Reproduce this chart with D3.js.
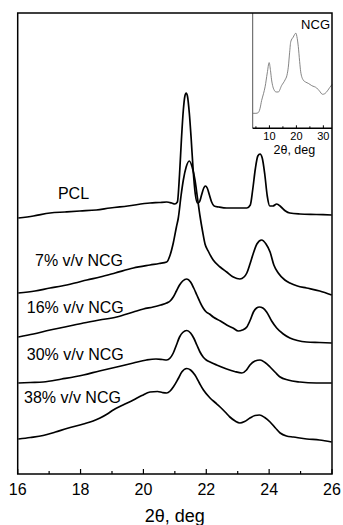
<!DOCTYPE html>
<html><head><meta charset="utf-8">
<script src="https://cdn.jsdelivr.net/npm/d3@7/dist/d3.min.js"></script>
<style>body{margin:0;background:#fff}svg{display:block}</style>
</head><body>
<svg id="c" width="343" height="525"></svg>
<script>
// ---------- data (2θ in deg, intensity in arbitrary units) ----------
const seriesNames = ["PCL", "7% v/v NCG", "16% v/v NCG", "30% v/v NCG", "38% v/v NCG"];
const xTicksMain = [16, 18, 20, 22, 24, 26];
const xMinorMain = [17, 19, 21, 23, 25];
const xTicksInset = [10, 20, 30];
const xMinorInset = [5, 15, 25];
const insetName = "NCG";
const axisTitle = "2θ, deg";

const pcl = [[16.02,256],[16.5,258],[17.03,261],[17.5,262],[17.98,263],[18.5,264],[18.94,266],[19.5,268],[20.21,271],[20.5,271.5],[20.74,272],[20.9,271],[21.0,270],[21.08,272],[21.15,300],[21.21,335],[21.27,364],[21.32,378],[21.36,381],[21.40,378],[21.46,361],[21.52,335],[21.58,305],[21.65,280],[21.72,271],[21.78,272],[21.85,279],[21.92,286],[21.97,288],[22.03,286],[22.10,279],[22.17,272],[22.25,268],[22.4,267],[22.65,266],[23.0,266],[23.29,266],[23.40,269],[23.48,285],[23.56,305],[23.64,318],[23.71,320],[23.78,316],[23.86,300],[23.94,278],[24.02,268],[24.12,268],[24.24,270],[24.38,267],[24.52,263],[24.66,261],[24.98,260],[25.5,259.5],[25.99,259]];
const ncg7 = [[16.02,181],[16.55,183],[17.03,186],[17.4,188],[17.82,191],[18.2,194],[18.62,197],[19.1,201],[19.68,206],[20.21,209],[20.5,210.5],[20.74,212],[20.85,219],[20.95,231],[21.05,247],[21.11,256],[21.2,279],[21.27,294],[21.36,307],[21.46,313],[21.55,307],[21.64,294],[21.72,276],[21.80,258],[21.88,243],[21.96,230],[22.06,223],[22.22,214],[22.44,207],[22.65,202],[22.86,197],[23.07,195],[23.2,197],[23.29,201],[23.39,210],[23.50,221],[23.61,230],[23.76,234],[23.90,230],[24.03,222],[24.15,209],[24.29,201],[24.50,194],[24.66,191],[24.9,188],[25.19,186],[25.61,183],[25.99,179]];
const ncg16 = [[16.02,137],[16.5,140],[17.03,144],[17.5,147],[18.09,151],[18.6,154],[19.15,157],[19.68,162],[20.0,165],[20.31,167],[20.55,169],[20.74,171],[20.85,173],[20.95,177],[21.05,183],[21.15,189],[21.25,193],[21.38,195],[21.5,192],[21.6,186],[21.7,179],[21.8,172],[21.9,166],[22.0,162],[22.1,160],[22.22,157],[22.45,153],[22.65,149],[22.85,146],[23.02,143],[23.15,144],[23.29,147],[23.40,154],[23.50,162],[23.60,166],[23.69,167],[23.80,166],[23.92,162],[24.08,153],[24.24,146],[24.45,140],[24.66,136],[24.9,133.5],[25.19,132],[25.6,131.5],[25.99,131]];
const ncg30 = [[16.02,91],[16.4,91.5],[16.81,92],[17.4,95],[18.09,99],[18.6,103],[19.15,107],[19.68,111],[20.10,114],[20.4,115],[20.6,114.5],[20.74,114],[20.85,116],[20.95,121],[21.05,129],[21.15,137],[21.25,141.5],[21.38,143.5],[21.5,141],[21.6,136],[21.7,129],[21.8,122],[21.9,117],[22.0,114],[22.12,112],[22.33,109],[22.65,105],[22.9,102.5],[23.13,101],[23.28,104],[23.39,109],[23.55,113],[23.71,114],[23.87,111.5],[24.03,107],[24.2,101.5],[24.35,97],[24.6,94],[24.98,92],[25.5,91],[25.99,91]];
const ncg38 = [[16.02,35],[16.4,36.5],[16.81,38.5],[17.2,42],[17.56,45.5],[18.09,50],[18.4,53],[18.62,56],[18.85,60],[19.04,64],[19.35,69],[19.68,74],[19.95,78.5],[20.21,82],[20.45,82.5],[20.6,81.5],[20.74,81],[20.85,83],[20.95,87],[21.1,95],[21.22,102],[21.38,105.5],[21.5,104],[21.64,99],[21.78,91],[21.91,84],[22.12,76],[22.3,71],[22.44,67],[22.6,62],[22.75,57],[22.92,53],[23.07,51],[23.22,52.5],[23.39,56],[23.55,58.5],[23.69,59],[23.86,56.5],[24.03,52],[24.2,46],[24.35,41],[24.55,38],[24.77,37],[25.2,35],[25.6,34],[25.99,32]];
const ncgInset = [[3.8,13],[5.0,13],[5.8,13.5],[6.5,17],[7.1,24],[7.8,30],[8.4,36],[9.2,48],[9.9,57],[10.4,50],[10.8,42],[11.3,36],[11.8,33],[12.5,31.5],[13.3,31.5],[14.5,37],[15.8,42],[16.5,46],[17.0,53],[17.5,66],[17.9,75],[18.8,79],[19.8,82.5],[20.3,78],[20.7,71],[21.2,58],[21.6,49],[22.5,42],[23.5,40],[24.4,39],[25.7,37],[27.5,35],[28.5,32.5],[29.7,29.5],[30.5,30],[31.0,31],[32.4,35.5],[33.2,38]];

const series = [pcl, ncg7, ncg16, ncg30, ncg38];
// label anchors (2θ, intensity) for each series name
const labelAnchor = [[17.28,275],[16.55,208],[16.29,161],[16.29,114.5],[16.2,71.5]];

// ---------- layout ----------
const W = 343, H = 525;
const L = 17.7, R = 332, T = 13, B = 474;
const svg = d3.select("#c");
svg.append("rect").attr("width", W).attr("height", H).attr("fill", "#fff");
const font = "Arial, 'Liberation Sans', Helvetica, sans-serif";

const x = d3.scaleLinear().domain([16, 26]).range([L, R]);
const y = d3.scaleLinear().domain([0, B - T]).range([B, T]);

const line = d3.line().x(d => x(d[0])).y(d => y(d[1])).curve(d3.curveMonotoneX);

// curves
svg.append("g").selectAll("path").data(series).join("path")
  .attr("d", line).attr("fill", "none").attr("stroke", "#000")
  .attr("stroke-width", 1.7).attr("stroke-linejoin", "round");

// labels
svg.append("g").selectAll("text").data(seriesNames).join("text")
  .attr("x", (d, i) => x(labelAnchor[i][0]))
  .attr("y", (d, i) => y(labelAnchor[i][1]))
  .attr("font-family", font).attr("font-size", 16).attr("fill", "#000")
  .text(d => d);

// ---------- inset ----------
const iL = 252.7, iR = R, iT = T, iB = 128.3;
const xi = d3.scaleLinear().domain([3.8, 33.2]).range([iL, iR]);
const yi = d3.scaleLinear().domain([0, 100]).range([iB, iT]);
const gi = svg.append("g");
gi.append("rect").attr("x", iL).attr("y", iT).attr("width", iR - iL).attr("height", iB - iT)
  .attr("fill", "#fff").attr("stroke", "none");
gi.append("line").attr("x1", iL).attr("x2", iL).attr("y1", iT).attr("y2", iB)
  .attr("stroke", "#555").attr("stroke-width", 1);
gi.append("path").datum(ncgInset)
  .attr("d", d3.line().x(d => xi(d[0])).y(d => yi(d[1])).curve(d3.curveMonotoneX))
  .attr("fill", "none").attr("stroke", "#777").attr("stroke-width", 0.9);
gi.append("line").attr("x1", iL).attr("x2", iR).attr("y1", iB).attr("y2", iB)
  .attr("stroke", "#000").attr("stroke-width", 1.5);
gi.selectAll("line.mj").data(xTicksInset).join("line").attr("class", "mj")
  .attr("x1", d => xi(d)).attr("x2", d => xi(d)).attr("y1", iB).attr("y2", iB - 3)
  .attr("stroke", "#000").attr("stroke-width", 1);
gi.selectAll("line.mn").data(xMinorInset).join("line").attr("class", "mn")
  .attr("x1", d => xi(d)).attr("x2", d => xi(d)).attr("y1", iB).attr("y2", iB - 2)
  .attr("stroke", "#000").attr("stroke-width", 1);
gi.selectAll("text.tl").data(xTicksInset).join("text").attr("class", "tl")
  .attr("x", d => xi(d)).attr("y", iB + 11.5).attr("text-anchor", "middle")
  .attr("font-family", font).attr("font-size", 11).text(d => d);
gi.append("text").attr("x", (iL + iR) / 2 + 2).attr("y", iB + 25.5).attr("text-anchor", "middle")
  .attr("font-family", font).attr("font-size", 12.5).text(axisTitle);
gi.append("text").attr("x", iR - 2).attr("y", iT + 15.5).attr("text-anchor", "end")
  .attr("font-family", font).attr("font-size", 13).text(insetName);

// ---------- main frame & axis ----------
svg.append("rect").attr("x", L).attr("y", T).attr("width", R - L).attr("height", B - T)
  .attr("fill", "none").attr("stroke", "#000").attr("stroke-width", 1.5);
svg.append("g").selectAll("line").data(xTicksMain).join("line")
  .attr("x1", d => x(d)).attr("x2", d => x(d)).attr("y1", B).attr("y2", B - 5)
  .attr("stroke", "#000").attr("stroke-width", 1.2);
svg.append("g").selectAll("line").data(xMinorMain).join("line")
  .attr("x1", d => x(d)).attr("x2", d => x(d)).attr("y1", B).attr("y2", B - 3)
  .attr("stroke", "#000").attr("stroke-width", 1.2);
svg.append("g").selectAll("text").data(xTicksMain).join("text")
  .attr("x", d => x(d)).attr("y", B + 21).attr("text-anchor", "middle")
  .attr("font-family", font).attr("font-size", 16).text(d => d);
svg.append("text").attr("x", (L + R) / 2).attr("y", B + 48).attr("text-anchor", "middle")
  .attr("font-family", font).attr("font-size", 18).text(axisTitle);
</script>
</body></html>
